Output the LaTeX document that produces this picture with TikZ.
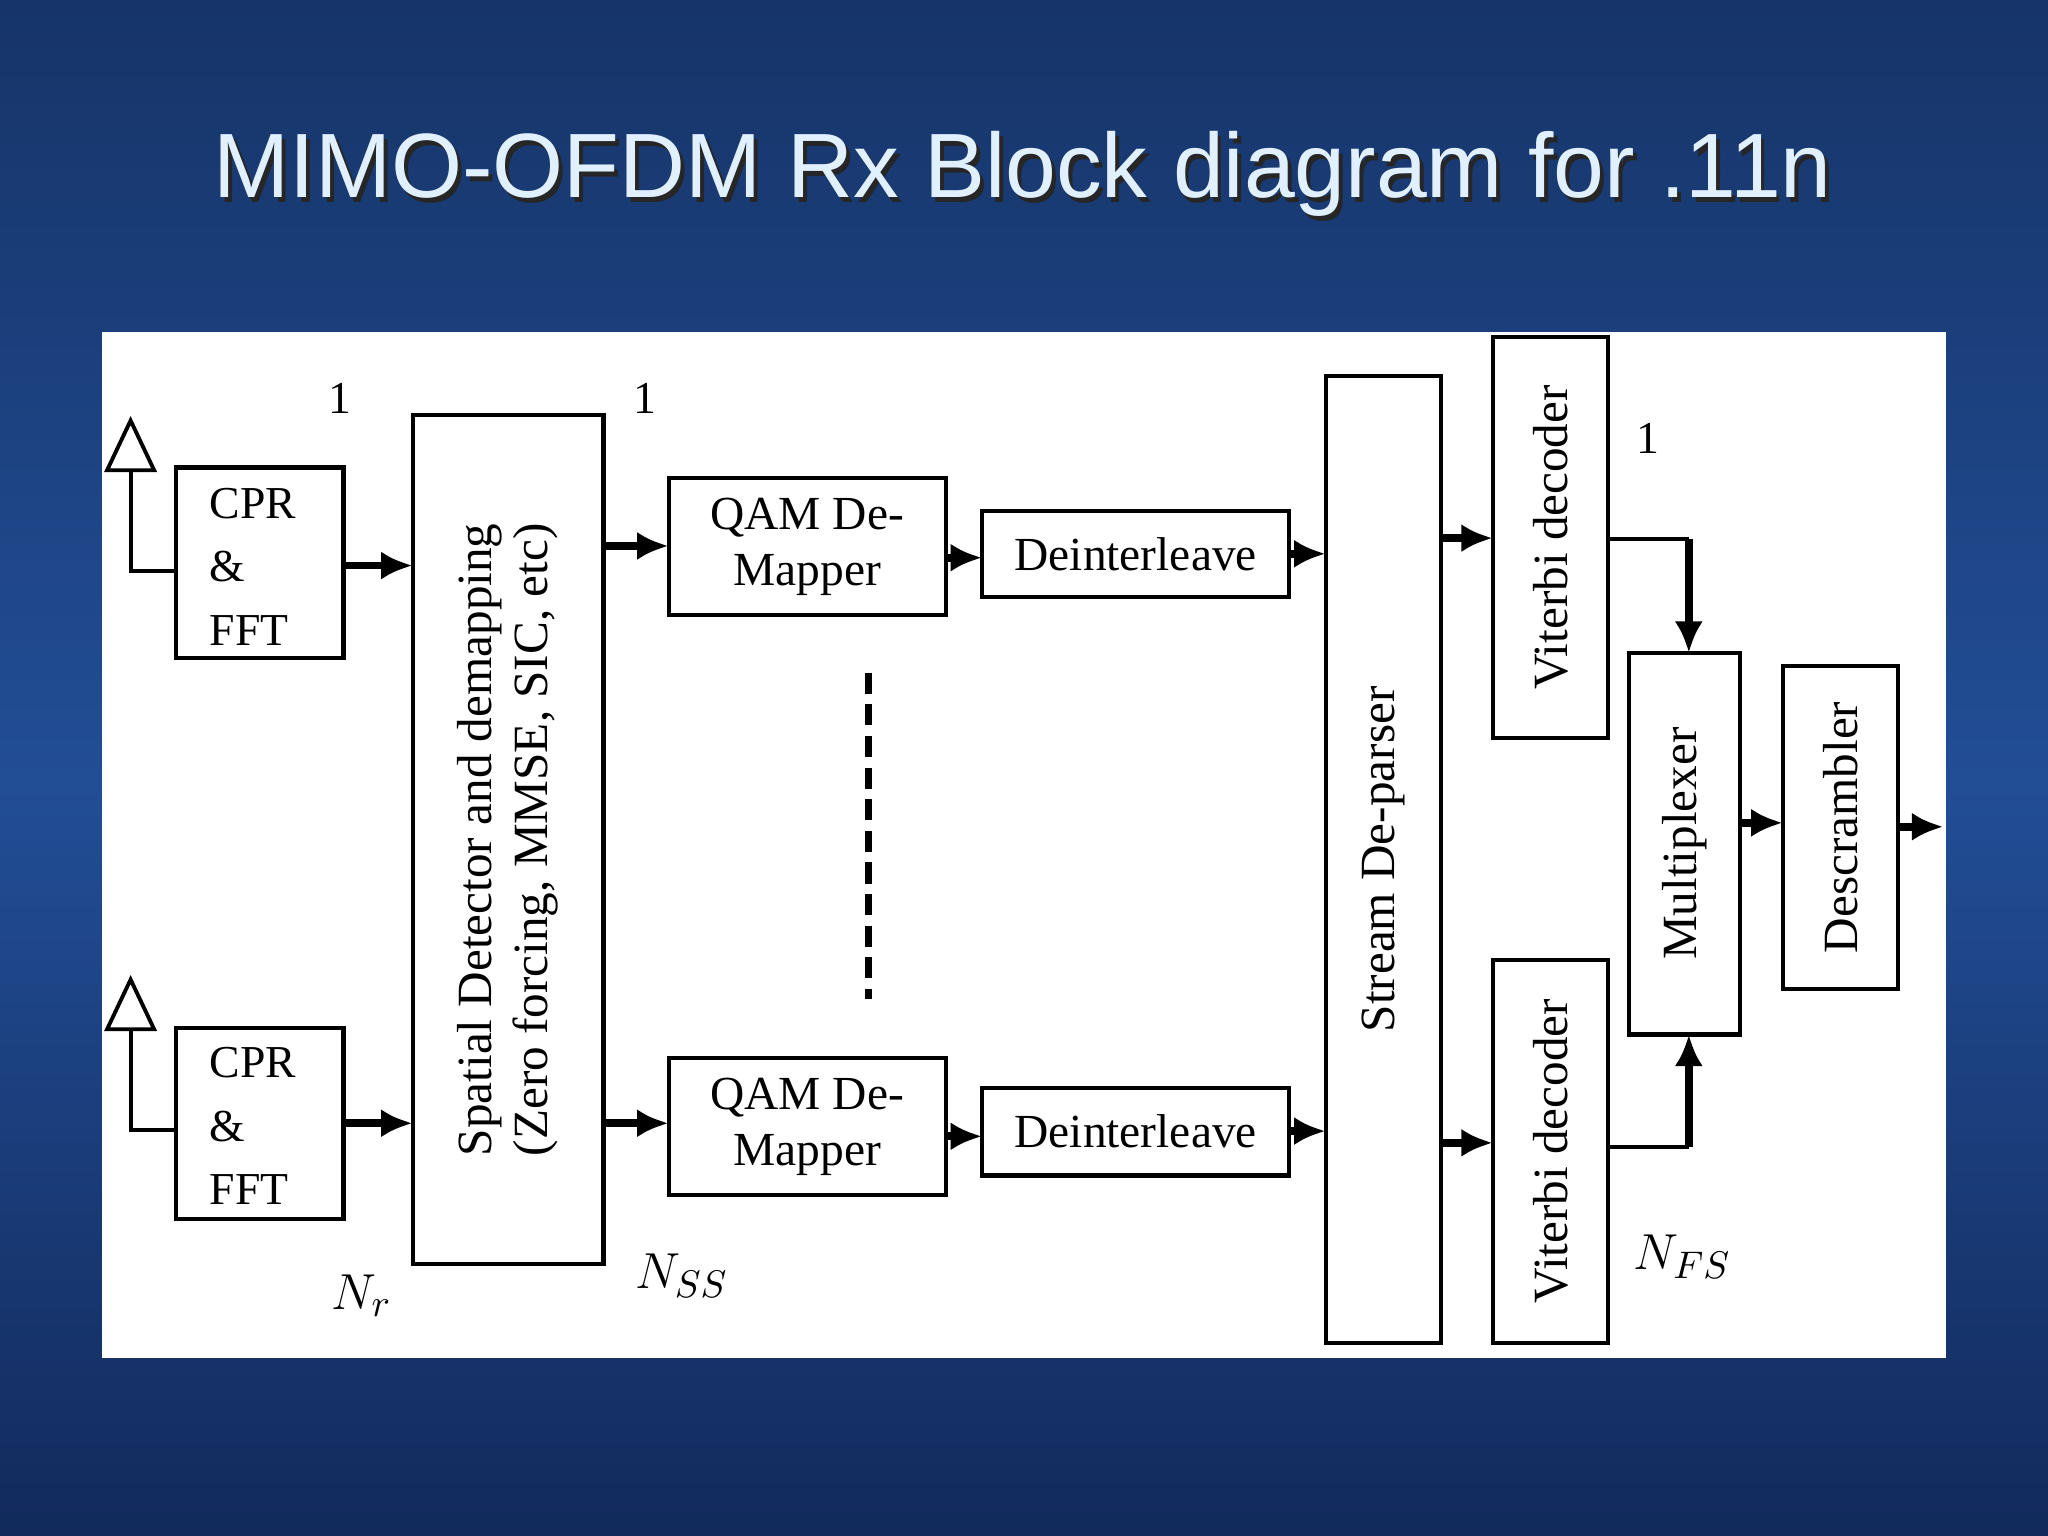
\documentclass[tikz,border=0pt]{standalone}
\usepackage{fontspec}
\setmainfont{Liberation Serif}
\newfontfamily\ttl{Liberation Sans}
\usetikzlibrary{arrows.meta}
\definecolor{bgtop}{RGB}{22,52,104}
\definecolor{bgmid}{RGB}{34,78,150}
\definecolor{bgbot}{RGB}{18,42,92}
\definecolor{ttlc}{RGB}{225,240,255}
\newcommand\mybx[6][]{\node[blk,minimum width={(#5-#3)*0.013061cm},minimum height={(#6-#4)*0.013061cm},#1] (#2) at ({(#3+#5)/2},{(#4+#6)/2}) {};}
\begin{document}
\begin{tikzpicture}[x=0.013061cm,y=-0.013061cm,
  blk/.style={draw=black,line width=1.2pt,fill=white,inner sep=0pt,outer sep=0pt},
  arr/.style={line width=2.2pt,-{Latex[length=9pt,width=8pt]}},
  thin/.style={line width=1.1pt},
  lbl/.style={font=\fontsize{13}{15}\selectfont,inner sep=0pt},
  txt/.style={font=\fontsize{13.5}{16}\selectfont,inner sep=0pt,align=center},
  vt/.style={font=\fontsize{14}{16}\selectfont,rotate=90,align=center,inner sep=0pt}]
\useasboundingbox (0,0) rectangle (1568,1176);
\fill[top color=bgtop,bottom color=bgmid] (0,0) rectangle (1568,600);
\fill[top color=bgmid,bottom color=bgbot] (0,600) rectangle (1568,1176);
\node[text=black!85,font=\ttl\fontsize{26}{30}\selectfont] at (786,137) {MIMO-OFDM Rx Block diagram for .11n};
\node (title) [text=ttlc,font=\ttl\fontsize{26}{30}\selectfont] at (783,133) {MIMO-OFDM Rx Block diagram for .11n};
\fill[white] (78,254) rectangle (1490,1040);
% antennas
\draw[thin,fill=white] (82,360) -- (100,322) -- (118,360) -- cycle;
\draw[thin,fill=white] (82,788) -- (100,750) -- (118,788) -- cycle;
\coordinate (a1) at (100,360);
\coordinate (a2) at (100,788);
\mybx{cp1}{135}{358}{263}{504}
\mybx{cp2}{135}{787}{263}{933}
\node[lbl,align=left,anchor=west] at (160,434) {CPR\\[3pt]\&\\[3pt]FFT};
\node[lbl,align=left,anchor=west] at (160,862) {CPR\\[3pt]\&\\[3pt]FFT};
\draw[thin] (a1) |- (cp1.west|-0,437);
\draw[thin] (a2) |- (cp2.west|-0,865);
\mybx{sd}{316}{318}{462}{968}
\node[vt] at (sd) {Spatial Detector and demapping\\(Zero forcing, MMSE, SIC, etc)};
\draw[arr] (cp1.east|-0,433) -- (sd.west|-0,433);
\draw[arr] (cp2.east|-0,860) -- (sd.west|-0,860);
\mybx{q1}{512}{366}{724}{471}
\mybx{q2}{512}{810}{724}{915}
\node[txt] at (q1) {QAM De-\\Mapper};
\node[txt] at (q2) {QAM De-\\Mapper};
\draw[arr] (sd.east|-0,418) -- (q1.west|-0,418);
\draw[arr] (sd.east|-0,860) -- (q2.west|-0,860);
\draw[line width=2.2pt,dash pattern=on 6pt off 3pt] (665,515) -- (665,765);
\mybx{d1}{752}{391}{987}{457}
\mybx{d2}{752}{833}{987}{900}
\node[txt] at (d1) {Deinterleave};
\node[txt] at (d2) {Deinterleave};
\draw[arr] (q1.east|-0,427) -- (d1.west|-0,427);
\draw[arr] (q2.east|-0,870) -- (d2.west|-0,870);
\mybx{sp}{1015}{288}{1103}{1028}
\node[vt] at (sp) {Stream De-parser};
\draw[arr] (d1.east|-0,424) -- (sp.west|-0,424);
\draw[arr] (d2.east|-0,866) -- (sp.west|-0,866);
\mybx{v1}{1143}{258}{1231}{565}
\mybx{v2}{1143}{735}{1231}{1028}
\node[vt] at (v1) {Viterbi decoder};
\node[vt] at (v2) {Viterbi decoder};
\draw[arr] (sp.east|-0,412) -- (v1.west|-0,412);
\draw[arr] (sp.east|-0,875) -- (v2.west|-0,875);
\mybx{mx}{1247}{500}{1332}{792}
\node[vt] at (mx) {Multiplexer};
\draw[thin] (v1.east|-0,413) -- (1293,413);
\draw[arr] (1293,413) -- (mx.north-|1293,0);
\draw[thin] (v2.east|-0,878) -- (1293,878);
\draw[arr] (1293,878) -- (mx.south-|1293,0);
\mybx{ds}{1365}{510}{1453}{757}
\node[vt] at (ds) {Descrambler};
\draw[arr] (mx.east|-0,630) -- (ds.west|-0,630);
\coordinate (out) at (1488,633);
\draw[arr] (ds.east|-out) -- (out);
% labels
\node[lbl] at (260,305) {1};
\node[lbl] at (494,305) {1};
\node[lbl] at (1262,336) {1};
\node[lbl,font=\fontsize{15}{16}\selectfont] at (277,992) {$N_r$};
\node[lbl,font=\fontsize{15}{16}\selectfont] at (522,977) {$N_{SS}$};
\node[lbl,font=\fontsize{15}{16}\selectfont] at (1288,962) {$N_{FS}$};
\end{tikzpicture}
\end{document}
